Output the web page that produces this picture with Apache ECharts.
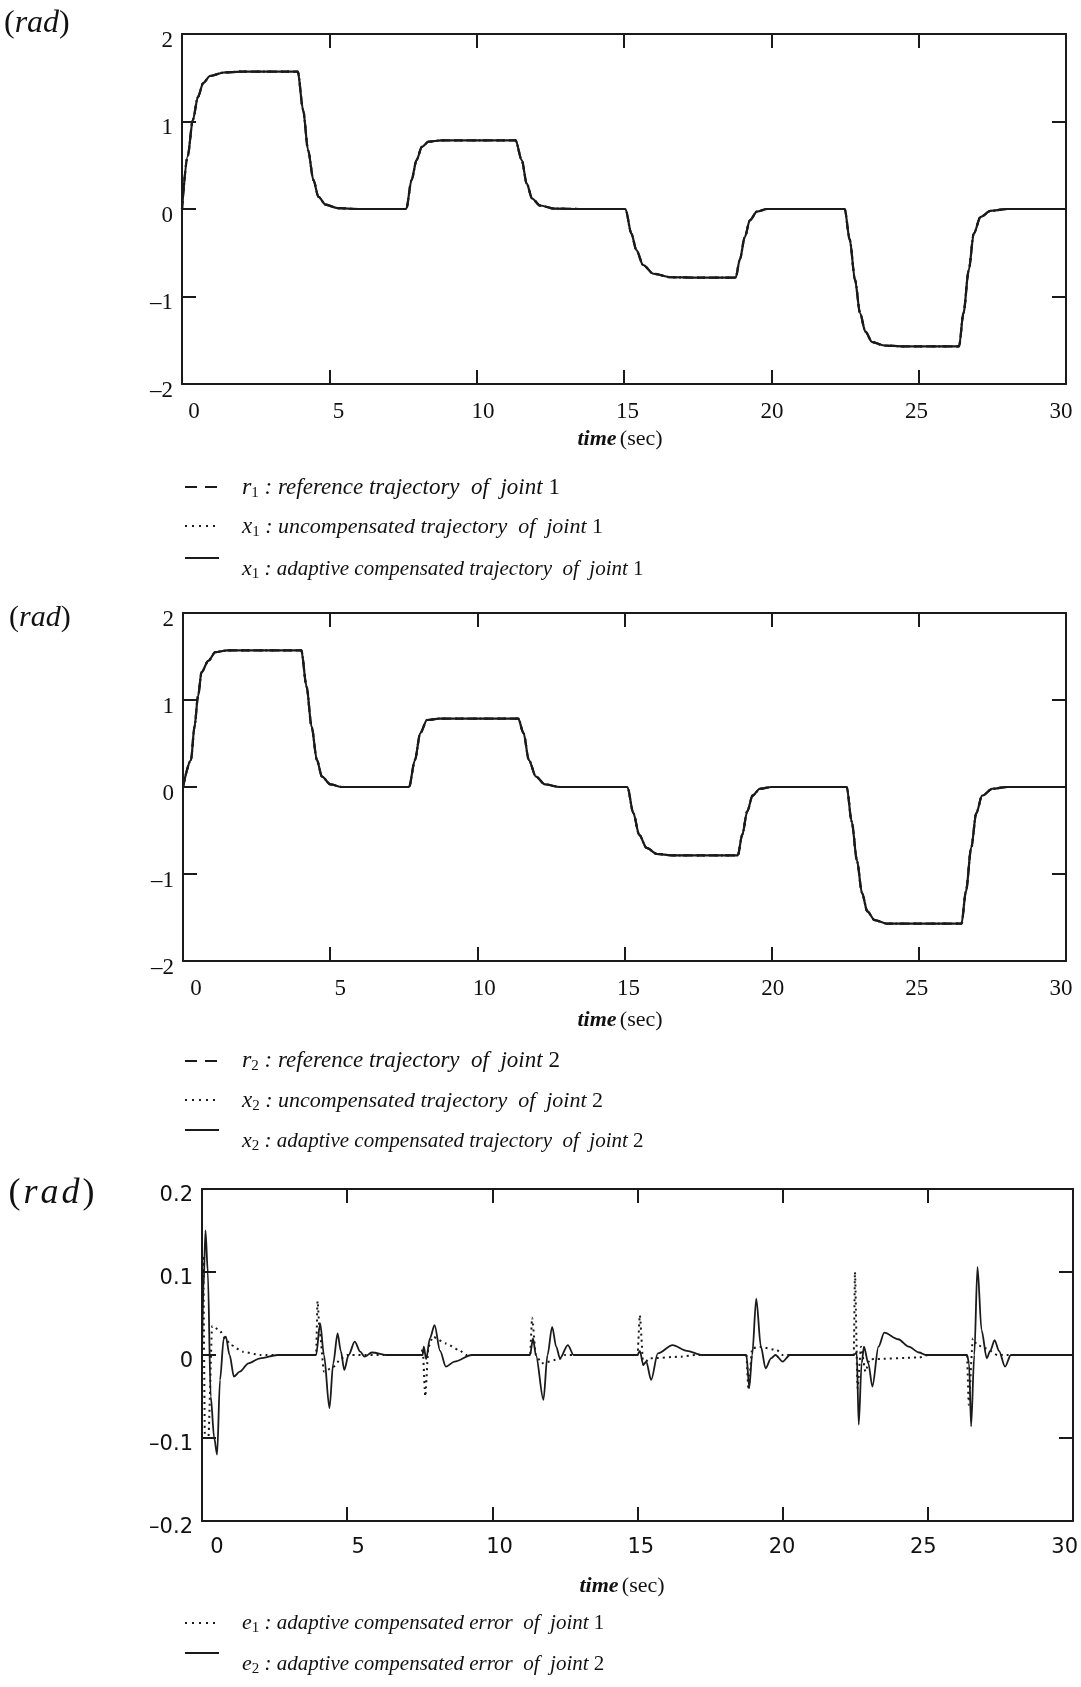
<!DOCTYPE html>
<html><head><meta charset="utf-8">
<script src="https://cdn.jsdelivr.net/npm/echarts@6/dist/echarts.min.js"></script>
<style>html,body{margin:0;padding:0;background:#fff}#c{width:1081px;height:1687px}</style>
</head><body><div id="c"></div>
<script>
// ---------- data ----------
const xTicks = [0, 5, 10, 15, 20, 25, 30];
const yTicksTraj = [-2, -1, 0, 1, 2];
const yTicksErr = [-0.2, -0.1, 0, 0.1, 0.2];

// joint 1 trajectory (r1, uncompensated x1 and adaptive x1 coincide in the plot)
const T1 = [0,0.19,0.37,0.54,0.72,0.95,1.42,2.0,3.93,4.11,4.28,4.46,4.63,4.87,5.28,6.0,7.61,7.79,7.96,8.14,8.37,8.8,11.32,11.53,11.70,11.88,12.15,12.62,13.5,15.05,15.25,15.42,15.65,16.0,16.59,17.5,18.79,18.93,19.1,19.27,19.51,19.86,21.0,22.49,22.66,22.84,23.01,23.19,23.42,23.83,24.5,26.37,26.52,26.7,26.87,27.1,27.45,28.0,30];
const R1 = [0,0.6,1.02,1.28,1.44,1.52,1.56,1.57,1.57,1.13,0.67,0.33,0.14,0.05,0.01,0,0,0.33,0.56,0.71,0.77,0.785,0.785,0.56,0.29,0.12,0.04,0.005,0,0,-0.28,-0.47,-0.64,-0.74,-0.78,-0.785,-0.785,-0.58,-0.32,-0.13,-0.03,0,0,0,-0.35,-0.81,-1.19,-1.40,-1.52,-1.56,-1.57,-1.57,-1.19,-0.70,-0.28,-0.09,-0.02,0,0];
const X1U = R1;
const X1A = R1;

// joint 2 trajectory
const T2 = [0,0.27,0.39,0.51,0.63,0.86,1.1,1.5,4.02,4.2,4.37,4.55,4.72,5.01,5.4,7.68,7.88,8.06,8.29,8.7,11.39,11.57,11.75,11.99,12.3,12.8,15.1,15.3,15.5,15.75,16.1,16.6,18.85,19.0,19.17,19.35,19.6,20.0,22.55,22.72,22.9,23.07,23.25,23.5,23.9,26.45,26.6,26.78,26.95,27.15,27.5,28,30];
const R2 = [0,0.31,0.69,1.04,1.32,1.45,1.55,1.57,1.57,1.15,0.69,0.31,0.12,0.03,0,0,0.31,0.62,0.77,0.785,0.785,0.62,0.31,0.12,0.03,0,0,-0.3,-0.55,-0.7,-0.77,-0.785,-0.785,-0.55,-0.28,-0.1,-0.02,0,0,-0.4,-0.85,-1.22,-1.43,-1.53,-1.57,-1.57,-1.2,-0.7,-0.3,-0.1,-0.02,0,0];
const X2U = R2;
const X2A = R2;

// e1 : adaptive compensated error of joint 1 (dotted)
const TE1 = [0,0.04,0.1,0.22,0.35,0.6,0.8,1.0,1.4,2.0,3.93,3.98,4.05,4.2,4.5,4.8,5.0,7.55,7.6,7.69,7.8,7.95,8.4,8.85,9.1,11.3,11.37,11.5,11.7,12.3,12.5,15.0,15.08,15.2,15.4,16.5,17.0,18.75,18.82,18.95,19.2,19.8,20.0,22.45,22.49,22.58,22.7,22.85,23.0,24.7,25.0,26.35,26.41,26.55,26.7,27.0,27.4,30];
const E1 = [0,0.12,-0.1,-0.1,0.035,0.03,0.02,0.012,0.004,0,0,0.065,0.03,-0.02,-0.015,-0.004,0,0,0.008,-0.05,0.01,0.022,0.014,0.006,0,0,0.045,0,-0.01,-0.005,0,0,0.048,-0.012,-0.004,-0.002,0,0,-0.042,0.008,0.01,0.006,0,0,0.1,-0.04,0.01,-0.02,-0.005,-0.003,0,0,-0.06,0.02,0.012,0.008,0,0];

// e2 : adaptive compensated error of joint 2 (solid)
const TE2 = [0,0.05,0.12,0.2,0.3,0.42,0.52,0.62,0.75,0.82,0.95,1.1,1.3,1.6,2.0,2.6,3.93,4.07,4.2,4.39,4.52,4.67,4.78,4.9,5.05,5.26,5.45,5.6,5.85,6.4,7.6,7.64,7.72,7.85,8.01,8.2,8.4,8.7,9.29,11.3,11.4,11.5,11.76,11.9,12.06,12.2,12.33,12.6,12.8,15.0,15.08,15.2,15.3,15.47,15.7,16.21,16.7,17.22,18.75,18.85,18.95,19.09,19.25,19.41,19.6,19.75,20.0,20.25,22.45,22.55,22.62,22.72,22.8,22.95,23.09,23.3,23.5,23.98,24.34,24.7,24.93,26.35,26.42,26.49,26.6,26.71,26.85,27.03,27.15,27.3,27.45,27.66,27.86,30];
const E2 = [0,0.08,0.15,0.1,-0.05,-0.1,-0.12,-0.03,0.02,0.022,0,-0.026,-0.02,-0.01,-0.004,0,0,0.038,0,-0.064,-0.01,0.026,0.005,-0.018,0,0.016,0.004,-0.002,0.003,0,0,0.01,-0.005,0.02,0.036,0.005,-0.014,-0.008,0,0,0.02,0,-0.054,0,0.034,0.01,-0.004,0.012,0,0,0.005,-0.012,-0.008,-0.03,0.002,0.012,0.005,0,0,-0.039,0,0.068,0.01,-0.016,-0.004,0,-0.008,0,0,0.003,-0.084,-0.01,0.01,-0.01,-0.038,0.01,0.027,0.019,0.01,0.003,0,0,-0.01,-0.086,0,0.106,0.03,-0.004,0.005,0.018,0.005,-0.014,0,0];

// ---------- chart ----------
const INK = '#1a1a1a';
const SERIF = '"Liberation Serif", "Times New Roman", serif';
const SANS = '"DejaVu Sans", Verdana, sans-serif';
const zip = (t, v) => t.map((x, i) => [x, v[i]]);
const dash = s => String(s).replace('-', '\u2013');

const G = [
  {left: 182, top: 34, width: 884, height: 350, ymin: -2, ymax: 2, yint: 1, font: SERIF, fs: 23,
   lab: {left: 194, width: 867}},
  {left: 183, top: 613, width: 883, height: 348, ymin: -2, ymax: 2, yint: 1, font: SERIF, fs: 23,
   lab: {left: 196, width: 865}},
  {left: 202, top: 1189, width: 871, height: 332, ymin: -0.2, ymax: 0.2, yint: 0.1, font: SANS, fs: 21,
   lab: {left: 217, width: 848}}
];

const grids = [], xAxes = [], yAxes = [];
const axLine = {show: true, onZero: false, lineStyle: {color: INK, width: 2}};
const tick = {show: true, inside: true, length: 14, lineStyle: {color: INK, width: 2}};
G.forEach(g => grids.push({left: g.left, top: g.top, width: g.width, height: g.height, show: false}));
G.forEach(g => grids.push({left: g.lab.left, top: g.top, width: g.lab.width, height: g.height, show: false}));
G.forEach((g, i) => {
  xAxes.push({gridIndex: i, type: 'value', position: 'bottom', min: 0, max: 30, interval: 5,
    axisLine: axLine, axisTick: tick, axisLabel: {show: false}, splitLine: {show: false}});
  xAxes.push({gridIndex: i, type: 'value', position: 'top', min: 0, max: 30, interval: 5,
    axisLine: axLine, axisTick: tick, axisLabel: {show: false}, splitLine: {show: false}});
  yAxes.push({gridIndex: i, type: 'value', position: 'left', min: g.ymin, max: g.ymax, interval: g.yint,
    axisLine: axLine, axisTick: tick, splitLine: {show: false},
    axisLabel: {show: true, margin: 9, color: '#111', fontFamily: g.font, fontSize: g.fs,
      formatter: v => '{a|' + dash(+(+v).toFixed(1)) + '}',
      rich: {a: {fontFamily: g.font, fontSize: g.fs, fill: '#111', color: '#111', padding: [13, 0, 0, 0]}},
      showMinLabel: true, showMaxLabel: true}});
  yAxes.push({gridIndex: i, type: 'value', position: 'right', min: g.ymin, max: g.ymax, interval: g.yint,
    axisLine: axLine, axisTick: tick, axisLabel: {show: false}, splitLine: {show: false}});
});
G.forEach((g, i) => {
  xAxes.push({gridIndex: 3 + i, type: 'value', position: 'bottom', min: 0, max: 30, interval: 5,
    axisLine: {show: false}, axisTick: {show: false}, splitLine: {show: false},
    axisLabel: {show: true, margin: 16, color: '#111', fontFamily: g.font, fontSize: g.fs,
      showMinLabel: true, showMaxLabel: true}});
  yAxes.push({gridIndex: 3 + i, type: 'value', min: 0, max: 1, show: false});
});

function ln(data, gi, type) {
  return {type: 'line', data, xAxisIndex: 2 * gi, yAxisIndex: 2 * gi, symbol: 'none', showSymbol: false,
    smooth: 0.3, smoothMonotone: 'x', silent: true, animation: false,
    lineStyle: {color: INK, width: 2.2, type}};
}
const series = [
  ln(zip(T1, R1), 0, [8, 6]), ln(zip(T1, X1U), 0, [2, 4]), ln(zip(T1, X1A), 0, 'solid'),
  ln(zip(T2, R2), 1, [8, 6]), ln(zip(T2, X2U), 1, [2, 4]), ln(zip(T2, X2A), 1, 'solid'),
  ln(zip(TE1, E1), 2, [2, 4]), ln(zip(TE2, E2), 2, 'solid')
];
series[6].smooth = 0.2; series[6].lineStyle.width = 2; series[7].lineStyle.width = 1.8;

// ---------- texts ----------
function richLeg(fs) {
  return {
    v: {fontFamily: SERIF, fontStyle: 'italic', fontSize: fs + 1, fill: '#111'},
    s: {fontFamily: SERIF, fontSize: 15, padding: [11, 0, 0, 0], fill: '#111'},
    t: {fontFamily: SERIF, fontStyle: 'italic', fontSize: fs, fill: '#111'},
    n: {fontFamily: SERIF, fontSize: fs, fill: '#111'}
  };
}
function legText(x, y, sym, sub, txt, num, fs) {
  return {type: 'text', x, y, silent: true,
    style: {text: `{v|${sym}}{s|${sub}}{t| : ${txt}}{n|${num}}`, rich: richLeg(fs), align: 'left', verticalAlign: 'middle'}};
}
function mark(x, y, kind) {
  const st = {stroke: INK, lineWidth: 2};
  if (kind === 'dash') st.lineDash = [12, 8];
  if (kind === 'dot') st.lineDash = [2, 5];
  return {type: 'line', silent: true, shape: {x1: x, y1: y, x2: x + 34, y2: y}, style: st};
}
function timeLbl(x, y) {
  return {type: 'text', x, y, silent: true,
    style: {text: '{a|time} {b|(sec)}', align: 'center', verticalAlign: 'middle',
      rich: {a: {fontFamily: SERIF, fontStyle: 'italic', fontWeight: 'bold', fontSize: 22, fill: '#111'},
             b: {fontFamily: SERIF, fontSize: 22, fill: '#111'}}}};
}
function radLbl(x, y, fs, sp) {
  const pad = [0, sp, 0, sp];
  return {type: 'text', x, y, silent: true,
    style: {text: '{p|(}{r|r}{r|a}{r|d}{p|)}', align: 'left', verticalAlign: 'middle',
      rich: {p: {fontFamily: SERIF, fontSize: fs, fill: '#111', padding: pad},
             r: {fontFamily: SERIF, fontStyle: 'italic', fontSize: fs, fill: '#111', padding: pad}}}};
}

const graphic = [
  radLbl(4, 24, 32, 0), radLbl(9, 618, 30, 0), radLbl(7, 1194, 36, 1.5),
  timeLbl(620, 439),
  mark(185, 487, 'dash'), legText(242, 488, 'r', '1', 'reference trajectory  of  joint ', '1', 23),
  mark(185, 526, 'dot'), legText(242, 527, 'x', '1', 'uncompensated trajectory  of  joint ', '1', 22),
  mark(185, 558, 'solid'), legText(242, 569, 'x', '1', 'adaptive compensated trajectory  of  joint ', '1', 21),
  timeLbl(620, 1020),
  mark(185, 1061, 'dash'), legText(242, 1061, 'r', '2', 'reference trajectory  of  joint ', '2', 23),
  mark(185, 1100, 'dot'), legText(242, 1101, 'x', '2', 'uncompensated trajectory  of  joint ', '2', 22),
  mark(185, 1130, 'solid'), legText(242, 1141, 'x', '2', 'adaptive compensated trajectory  of  joint ', '2', 21),
  timeLbl(622, 1586),
  mark(185, 1623, 'dot'), legText(242, 1623, 'e', '1', 'adaptive compensated error  of  joint ', '1', 21),
  mark(185, 1653, 'solid'), legText(242, 1664, 'e', '2', 'adaptive compensated error  of  joint ', '2', 21)
];

const chart = echarts.init(document.getElementById('c'), null, {renderer: 'canvas'});
chart.setOption({
  backgroundColor: '#ffffff',
  animation: false,
  grid: grids, xAxis: xAxes, yAxis: yAxes, series, graphic
});
</script>
</body></html>
